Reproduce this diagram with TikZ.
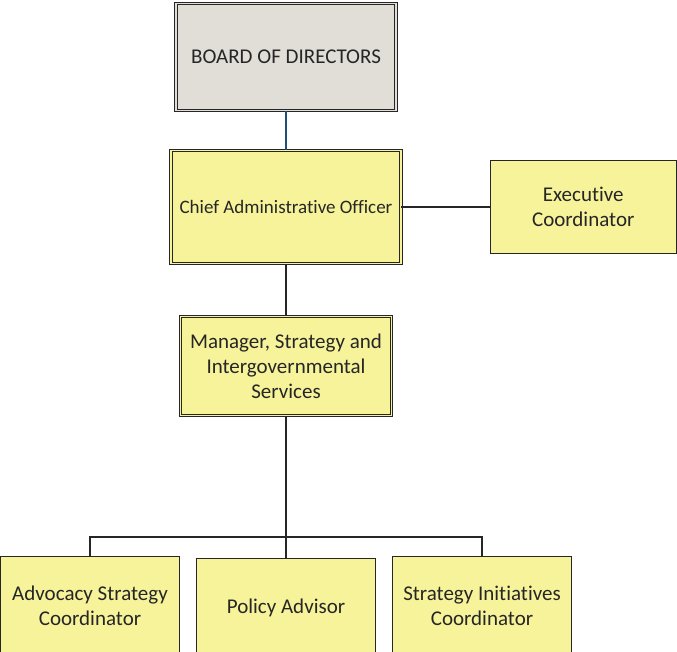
\documentclass[tikz,border=0pt]{standalone}
\usepackage{fontspec}
\setmainfont{Carlito}[Ligatures=NoCommon]
\usetikzlibrary{positioning}
\definecolor{boxyellow}{RGB}{247,243,154}
\definecolor{boardgray}{RGB}{225,222,216}
\definecolor{linkblue}{RGB}{31,78,121}
\definecolor{inkgray}{RGB}{38,38,38}

\begin{document}
\begin{tikzpicture}[x=1pt, y=-1pt, font=\fontsize{21}{25}\selectfont,
    every node/.style={draw=inkgray, align=center, text=inkgray, inner sep=2pt},
    dbl/.style={fill=boxyellow, double=boxyellow, double distance=1.8pt, line width=0.8pt},
    single/.style={fill=boxyellow, line width=1pt},
    link/.style={line width=1.6pt, inkgray}]
    \useasboundingbox (0,0) rectangle (677,652);
    \node (board) [dbl, fill=boardgray, double=boardgray, minimum width=220pt, minimum height=107pt] at (286,57) {BOARD OF DIRECTORS};
    \node (cao) [dbl, minimum width=230pt, minimum height=113pt, font=\fontsize{19}{23}\selectfont] at (286,207) {Chief Administrative Officer};
    \node (exec) [single, minimum width=185.5pt, minimum height=93pt] at (583.25,207) {Executive\\Coordinator};
    \node (mgr) [dbl, minimum width=211pt, minimum height=99pt] at (286,366) {Manager, Strategy and\\Intergovernmental\\Services};
    \node (advocacy) [single, minimum width=179pt, minimum height=100pt] at (90,606) {Advocacy Strategy\\Coordinator};
    \node (policy) [single, minimum width=179pt, minimum height=100pt] at (286,608) {Policy Advisor};
    \node (initiatives) [single, minimum width=179pt, minimum height=100pt] at (482,606) {Strategy Initiatives\\Coordinator};
    \coordinate (bar) at (286,537);
    \draw[link, linkblue] (board) -- (cao);
    \draw[link] (cao) -- (exec);
    \draw[link] (cao) -- (mgr);
    \draw[link] (mgr) -- (policy);
    \draw[link] (advocacy.north) |- (bar) -| (initiatives.north);
\end{tikzpicture}
\end{document}
